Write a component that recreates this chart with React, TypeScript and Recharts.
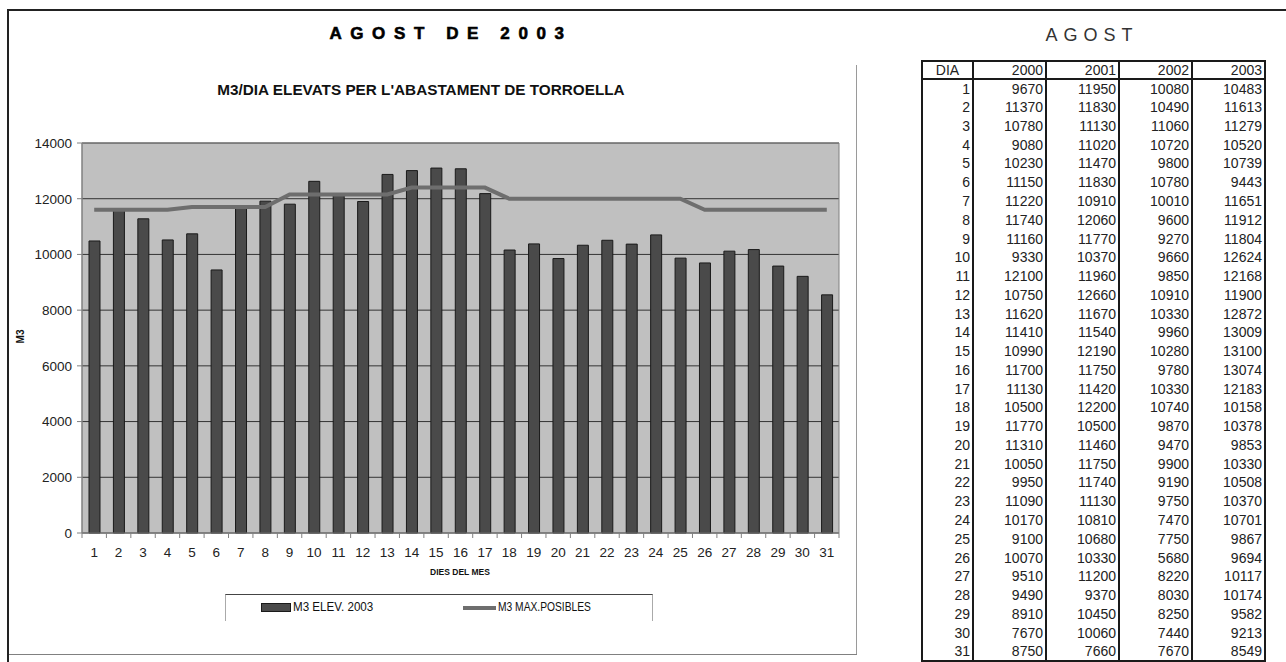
import React from 'react';
import { ComposedChart, Bar, Line, XAxis, YAxis, CartesianGrid, ReferenceArea } from 'recharts';

// Dades d'agost: m3/dia elevats (2003) i màxim possible, més la taula comparativa 2000-2003
const DIES = ['1', '2', '3', '4', '5', '6', '7', '8', '9', '10', '11', '12', '13', '14', '15', '16',
  '17', '18', '19', '20', '21', '22', '23', '24', '25', '26', '27', '28', '29', '30', '31'];

const M3_ELEV_2003 = [10483, 11613, 11279, 10520, 10739, 9443, 11651, 11912, 11804, 12624, 12168, 11900,
  12872, 13009, 13100, 13074, 12183, 10158, 10378, 9853, 10330, 10508, 10370, 10701, 9867, 9694, 10117,
  10174, 9582, 9213, 8549];

const M3_MAX_POSIBLES = [11600, 11600, 11600, 11600, 11700, 11700, 11700, 11700, 12150, 12150, 12150, 12150,
  12150, 12400, 12400, 12400, 12400, 12000, 12000, 12000, 12000, 12000, 12000, 12000, 12000, 11600, 11600,
  11600, 11600, 11600, 11600];

const ANY_2000 = [9670, 11370, 10780, 9080, 10230, 11150, 11220, 11740, 11160, 9330, 12100, 10750, 11620,
  11410, 10990, 11700, 11130, 10500, 11770, 11310, 10050, 9950, 11090, 10170, 9100, 10070, 9510, 9490, 8910,
  7670, 8750];
const ANY_2001 = [11950, 11830, 11130, 11020, 11470, 11830, 10910, 12060, 11770, 10370, 11960, 12660, 11670,
  11540, 12190, 11750, 11420, 12200, 10500, 11460, 11750, 11740, 11130, 10810, 10680, 10330, 11200, 9370,
  10450, 10060, 7660];
const ANY_2002 = [10080, 10490, 11060, 10720, 9800, 10780, 10010, 9600, 9270, 9660, 9850, 10910, 10330, 9960,
  10280, 9780, 10330, 10740, 9870, 9470, 9900, 9190, 9750, 7470, 7750, 5680, 8220, 8030, 8250, 7440, 7670];

const ANYS = ['2000', '2001', '2002', '2003'];
const Y_TICKS = [0, 2000, 4000, 6000, 8000, 10000, 12000, 14000];

const FONT = "'Liberation Sans', Arial, sans-serif";

const CHART_W = 860;
const CHART_H = 660;
const MARGIN = { top: 143, right: 21, bottom: 97, left: 12 };
const Y_W = 70;
const X_H = 30;
const BAND = (CHART_W - MARGIN.left - Y_W - MARGIN.right) / DIES.length;

const chartData = DIES.map((d, i) => ({ dia: d, elev: M3_ELEV_2003[i], max: M3_MAX_POSIBLES[i] }));
const taula = DIES.map((d, i) => [d, ANY_2000[i], ANY_2001[i], ANY_2002[i], M3_ELEV_2003[i]]);

function DiaTick(props: any) {
  const { x, y, payload, index } = props;
  const half = BAND / 2;
  return (
    <g>
      <line x1={x - half} y1={y} x2={x - half} y2={y + 5} stroke="#808080" />
      {index === DIES.length - 1 ? <line x1={x + half} y1={y} x2={x + half} y2={y + 5} stroke="#808080" /> : null}
      <text x={x} y={y + 24} textAnchor="middle" fontSize={13.5} fill="#222" fontFamily={FONT}>
        {payload.value}
      </text>
    </g>
  );
}

const abs = (s: React.CSSProperties): React.CSSProperties => ({ position: 'absolute', ...s });

// text una mica estret, com l'Arial Narrow de l'original
const narrow = (s: React.CSSProperties, k = 0.86): React.CSSProperties => ({
  ...s,
  transform: `scaleX(${k})`,
  transformOrigin: 'left center',
  whiteSpace: 'nowrap',
});

export default function App() {
  const colW = [51, 73, 73, 73, 73];
  return (
    <div style={abs({ left: 0, top: 0, width: 1286, height: 662, background: '#fff', fontFamily: FONT, overflow: 'hidden' })}>
      {/* marc */}
      <div style={abs({ left: 7, top: 9, width: 1279, height: 2, background: '#222' })} />
      <div style={abs({ left: 7, top: 9, width: 2, height: 653, background: '#222' })} />
      <div style={abs({ left: 856, top: 65, width: 1, height: 590, background: '#9a9a9a' })} />
      <div style={abs({ left: 9, top: 654, width: 848, height: 1, background: '#808080' })} />

      {/* títols */}
      <div style={abs({ left: 151, top: 24, width: 600, textAlign: 'center', fontSize: 17, fontWeight: 700, letterSpacing: 8.6, color: '#000', WebkitTextStroke: '0.6px #000' })}>
        AGOST DE 2003
      </div>
      <div style={abs({ left: 121, top: 81, width: 600, textAlign: 'center', fontSize: 15.3, fontWeight: 700, color: '#111' })}>
        M3/DIA ELEVATS PER L'ABASTAMENT DE TORROELLA
      </div>

      <div style={abs({ left: 0, top: 0 })}>
        <ComposedChart width={CHART_W} height={CHART_H} data={chartData} margin={MARGIN}>
          <CartesianGrid vertical={false} stroke="#333" fill="#c0c0c0" />
          <ReferenceArea y1={0} y2={14000} stroke="#808080" fill="none" fillOpacity={0} />
          <XAxis
            dataKey="dia"
            height={X_H}
            interval={0}
            tickSize={0}
            tickMargin={0}
            tickLine={false}
            axisLine={{ stroke: '#808080' }}
            tick={<DiaTick />}
          />
          <YAxis
            width={Y_W}
            domain={[0, 14000]}
            ticks={Y_TICKS}
            tickSize={5}
            tickMargin={5}
            tickLine={{ stroke: '#808080' }}
            axisLine={{ stroke: '#808080' }}
            tick={{ fontSize: 13.5, fill: '#222', fontFamily: FONT }}
          />
          <Bar dataKey="elev" fill="#4a4a4a" stroke="#1a1a1a" strokeWidth={1} barSize={11} isAnimationActive={false} />
          <Line type="linear" dataKey="max" stroke="#6e6e6e" strokeWidth={4} dot={false} activeDot={false} isAnimationActive={false} />
        </ComposedChart>
      </div>

      {/* etiquetes d'eixos */}
      <div style={abs({ left: 2, top: 331, width: 36, textAlign: 'center', fontSize: 10, fontWeight: 700, transform: 'rotate(-90deg)', color: '#111' })}>
        M3
      </div>
      <div style={abs({ left: 360, top: 567, width: 200, textAlign: 'center', fontSize: 8.5, fontWeight: 700, color: '#111' })}>
        DIES DEL MES
      </div>

      {/* llegenda */}
      <div style={abs({ left: 225, top: 594, width: 426, height: 26, borderTop: '1px solid #444', borderLeft: '1px solid #aaa', borderRight: '1px solid #aaa' })}>
        <div style={abs({ left: 35, top: 8, width: 30, height: 9, background: '#4a4a4a', border: '1px solid #1a1a1a', boxSizing: 'border-box' })} />
        <div style={narrow(abs({ left: 67, top: 4, fontSize: 13.5, color: '#111' }))}>M3 ELEV. 2003</div>
        <div style={abs({ left: 237, top: 11, width: 33, height: 4, background: '#6e6e6e' })} />
        <div style={narrow(abs({ left: 272, top: 4, fontSize: 13.5, color: '#111' }), 0.76)}>M3 MAX.POSIBLES</div>
      </div>

      {/* taula */}
      <div style={abs({ left: 992, top: 25, width: 200, textAlign: 'center', fontSize: 18, letterSpacing: 6, color: '#333' })}>
        AGOST
      </div>
      <table
        style={abs({
          left: 921,
          top: 60,
          width: 343,
          borderCollapse: 'collapse',
          tableLayout: 'fixed',
          fontSize: 14,
          color: '#222',
          border: '2px solid #1a1a1a',
        })}
      >
        <colgroup>
          {colW.map((w, i) => <col key={i} style={{ width: w }} />)}
        </colgroup>
        <thead>
          <tr style={{ height: 18 }}>
            {['DIA', ...ANYS].map((h, i) => (
              <th
                key={h}
                style={{
                  fontWeight: 400,
                  textAlign: i === 0 ? 'center' : 'right',
                  padding: '0 2px',
                  lineHeight: '16px',
                  borderLeft: i === 0 ? undefined : '2px solid #1a1a1a',
                  borderBottom: '2px solid #1a1a1a',
                }}
              >
                {h}
              </th>
            ))}
          </tr>
        </thead>
        <tbody>
          {taula.map((row, ri) => (
            <tr key={ri} style={{ height: 18.77 }}>
              {row.map((cell, ci) => (
                <td
                  key={ci}
                  style={{
                    textAlign: 'right',
                    padding: '0 2px',
                    lineHeight: '16px',
                    borderLeft: ci === 0 ? undefined : '2px solid #1a1a1a',
                  }}
                >
                  {cell}
                </td>
              ))}
            </tr>
          ))}
        </tbody>
      </table>
    </div>
  );
}
